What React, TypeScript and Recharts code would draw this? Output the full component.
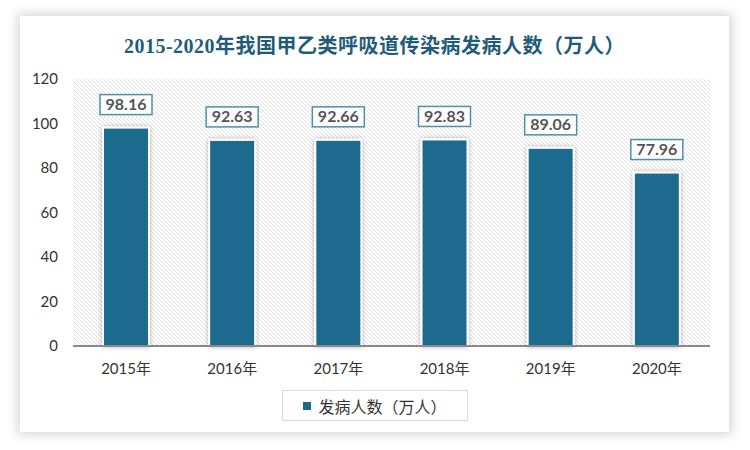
import React from 'react';
import { BarChart, Bar, XAxis, YAxis, CartesianGrid, LabelList, Legend } from 'recharts';

const years = ['2015年', '2016年', '2017年', '2018年', '2019年', '2020年'];
const cases = [98.16, 92.63, 92.66, 92.83, 89.06, 77.96];
const yTicks = [0, 20, 40, 60, 80, 100, 120];

const seriesName = '发病人数（万人）';
const barColor = '#1d6a8d';
const sansFont = 'Lato, "Noto Sans CJK SC", sans-serif';

const data = years.map((year, i) => ({ year, cases: cases[i] }));

// bar with white outline and soft shadow
const ShadowBar = (props: any) => {
  const { x, y, width, height } = props;
  if (!height || height <= 0) return null;
  return (
    <rect
      x={x}
      y={y}
      width={width}
      height={height}
      fill={barColor}
      stroke="#ffffff"
      strokeWidth={2}
      filter="url(#barShadow)"
    />
  );
};

// value label inside a bordered white box
const BoxLabel = (props: any) => {
  const { x, y, width, value } = props;
  const cx = x + width / 2;
  const w = 52;
  const h = 20;
  const top = y - 13 - h;
  return (
    <g>
      <rect x={cx - w / 2} y={top} width={w} height={h} fill="#ffffff" stroke="#4f8fac" strokeWidth={1.5} />
      <text
        x={cx}
        y={top + h / 2 + 1}
        textAnchor="middle"
        dominantBaseline="middle"
        fontFamily={sansFont}
        fontWeight="bold"
        fontSize={16}
        fill="#555555"
      >
        {Number(value).toFixed(2)}
      </text>
    </g>
  );
};

const LegendBox = (props: any) => {
  const { payload } = props;
  return (
    <div
      style={{
        width: 186,
        height: 31,
        border: '1.5px solid #d9d9d9',
        background: '#fff',
        display: 'flex',
        alignItems: 'center',
        justifyContent: 'center',
        boxSizing: 'border-box',
      }}
    >
      {(payload || []).map((entry: any) => (
        <span key={entry.value} style={{ display: 'flex', alignItems: 'center' }}>
          <span style={{ width: 8, height: 8, background: barColor, marginRight: 7 }} />
          <span style={{ fontFamily: sansFont, fontSize: 16, color: '#333' }}>{entry.value}</span>
        </span>
      ))}
    </div>
  );
};

export default function App() {
  return (
    <div style={{ position: 'absolute', left: 0, top: 0, width: 750, height: 450, background: '#ffffff', overflow: 'hidden' }}>
      <svg width={0} height={0} style={{ position: 'absolute' }}>
        <defs>
          <pattern id="hatch" patternUnits="userSpaceOnUse" width={4} height={4}>
            <rect width={4} height={4} fill="#ffffff" />
            <path d="M0,0 L4,4 M-1,3 L1,5 M3,-1 L5,1" stroke="#e0e0e0" strokeWidth={1} />
          </pattern>
          <filter id="barShadow" x="-30%" y="-10%" width="160%" height="120%">
            <feDropShadow dx={0} dy={0} stdDeviation={2.5} floodColor="#000" floodOpacity={0.3} />
          </filter>
        </defs>
      </svg>
      <div
        style={{
          position: 'absolute',
          left: 20,
          top: 16,
          width: 709,
          height: 416,
          background: '#ffffff',
          boxShadow: '0 0 10px 3px rgba(0,0,0,0.16)',
        }}
      />
      <div
        style={{
          position: 'absolute',
          left: 20,
          top: 30,
          width: 709,
          textAlign: 'center',
          fontFamily: '"Liberation Serif", "Noto Sans CJK SC", serif',
          fontWeight: 'bold',
          fontSize: 20,
          letterSpacing: 0.5,
          color: '#1f5c7a',
        }}
      >
        2015-2020年我国甲乙类呼吸道传染病发病人数（万人）
      </div>
      <div style={{ position: 'absolute', left: 0, top: 0 }}>
        <BarChart width={750} height={450} data={data} margin={{ top: 79, right: 40, bottom: 74, left: 0 }} barCategoryGap="28%">
          <CartesianGrid fill="url(#hatch)" horizontal={false} vertical={false} />
          <XAxis
            dataKey="year"
            height={30}
            tickLine={false}
            tickSize={0}
            tickMargin={17}
            axisLine={{ stroke: '#898989', strokeWidth: 2 }}
            tick={{ fontFamily: sansFont, fontSize: 15, fill: '#333333' }}
          />
          <YAxis
            width={73}
            domain={[0, 120]}
            ticks={yTicks}
            axisLine={false}
            tickLine={false}
            tickSize={0}
            tickMargin={15}
            tick={{ fontFamily: sansFont, fontSize: 15, fill: '#333333' }}
          />
          <Legend
            verticalAlign="middle"
            wrapperStyle={{ left: 282, top: 390, width: 186 }}
            content={<LegendBox />}
          />
          <Bar dataKey="cases" name={seriesName} fill={barColor} barSize={46} shape={<ShadowBar />} isAnimationActive={false}>
            <LabelList dataKey="cases" content={<BoxLabel />} />
          </Bar>
        </BarChart>
      </div>
    </div>
  );
}
